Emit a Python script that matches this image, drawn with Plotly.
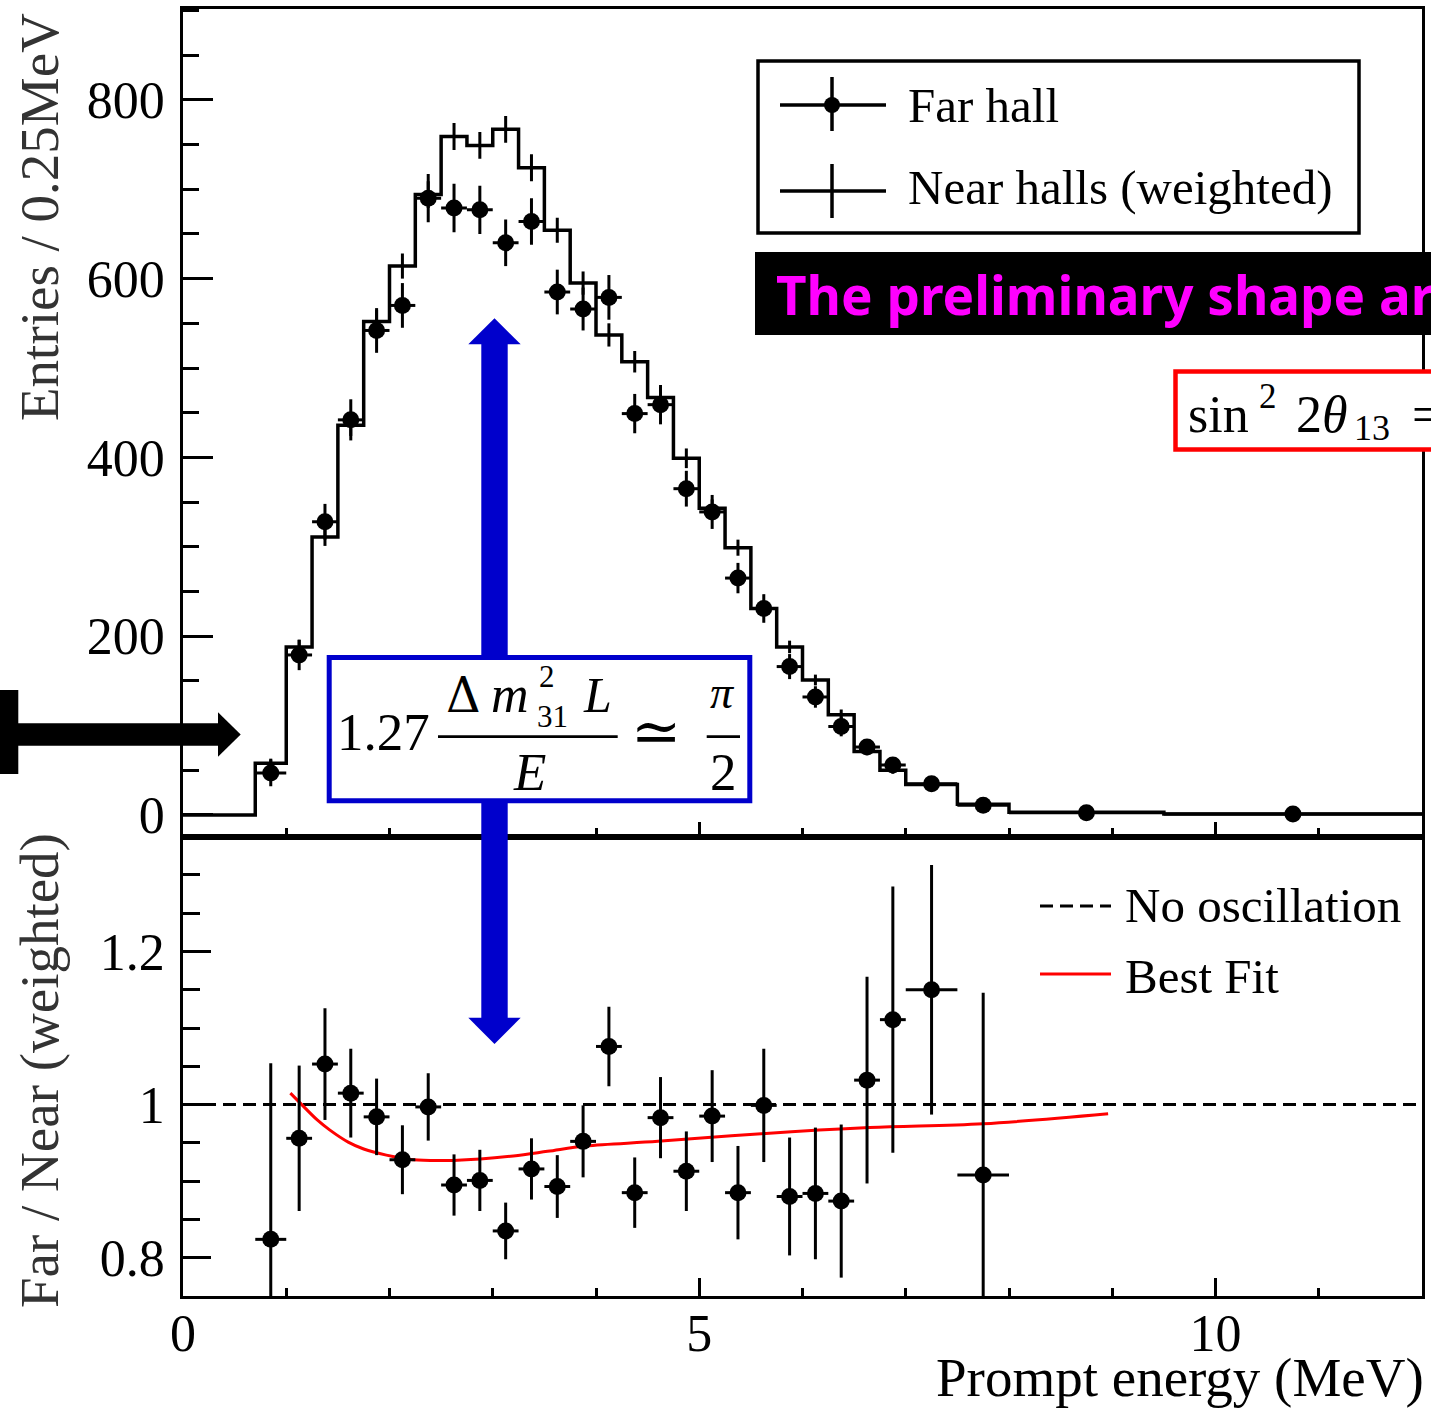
import numpy as np
import plotly.graph_objects as go

# ------------------------------------------------------------------ data
bin_edges = [0.7, 1.0, 1.25, 1.5, 1.75, 2.0, 2.25, 2.5, 2.75, 3.0, 3.25, 3.5,
             3.75, 4.0, 4.25, 4.5, 4.75, 5.0, 5.25, 5.5, 5.75, 6.0, 6.25, 6.5,
             6.75, 7.0, 7.5, 8.0, 9.5, 12.0]
near_counts = [58, 188, 311, 436, 552, 614, 694, 759, 749, 767, 724, 654, 595,
               537, 507, 467, 399, 343, 299, 231, 188, 151, 112, 71, 50, 34,
               12, 3, 1]
near_err = [5, 8, 10, 12, 13, 14, 15, 15, 15, 15, 15, 14, 13, 13, 12, 12, 11,
            10, 9, 8, 7, 6, 6, 4, 4, 3, 2, 1, 0.5]
far_counts = [47, 179, 328, 442, 542, 570, 690, 679, 677, 640, 664, 585, 566,
              579, 449, 459, 365, 339, 265, 231, 166, 132, 99, 76, 56, 35, 11,
              2.6, 1]
far_err = [15, 17, 20, 23, 25, 25, 27, 27, 27, 26, 26, 25, 24, 25, 22, 22, 20,
           19, 17, 16, 14, 12, 11, 9, 8, 6, 4, 2, 1]
ratio_vals = [0.824, 0.956, 1.053, 1.015, 0.984, 0.928, 0.997, 0.895, 0.901,
              0.835, 0.916, 0.893, 0.952, 1.076, 0.885, 0.983, 0.913, 0.985,
              0.885, 0.999, 0.880, 0.884, 0.874, 1.032, 1.111, 1.150, 0.908]
ratio_err = [0.23, 0.095, 0.073, 0.058, 0.05, 0.045, 0.044, 0.04, 0.04, 0.037,
             0.04, 0.041, 0.047, 0.052, 0.046, 0.053, 0.052, 0.06, 0.061, 0.074,
             0.077, 0.086, 0.1, 0.135, 0.174, 0.163, 0.238]
fit_energy = [1.04, 1.15, 1.3, 1.42, 1.6, 1.75, 1.97, 2.23, 2.55, 2.88, 3.2,
              3.53, 3.9, 4.6, 5.6, 6.65, 7.75, 8.96]
fit_ratio = [1.015, 1.000, 0.980, 0.967, 0.951, 0.942, 0.934, 0.928, 0.927,
             0.929, 0.933, 0.939, 0.946, 0.952, 0.962, 0.970, 0.975, 0.988]
no_osc_energy = [0, 12]
no_osc_ratio = [1, 1]

x_range = [0, 12]
top_y_range = [-24.3, 901.6]
bot_y_range = [0.75, 1.35]

# derived bin geometry
edges = np.array(bin_edges)
centers = (edges[:-1] + edges[1:]) / 2
halfw = (edges[1:] - edges[:-1]) / 2
n_ratio = len(ratio_vals)
step_x = [0.0] + bin_edges
step_y = [0] + near_counts + [near_counts[-1]]

# ------------------------------------------------------------------ layout helpers
W, H = 1431, 1411
ML, MR, MT, MB = 183, 9, 9, 115
PW, PH = W - ML - MR, H - MT - MB
SPLIT = (H - MB - 836.7) / PH

SERIF = "Liberation Serif"
BLUE = "#0000CC"


def PX(x):
    return (x - ML) / PW


def PY(y):
    return (H - MB - y) / PH


shapes = []
annotations = []


def rect(x0, y0, x1, y1, fill=None, lc=None, lw=0):
    shapes.append(dict(type="rect", xref="paper", yref="paper",
                       x0=PX(x0), x1=PX(x1), y0=PY(y1), y1=PY(y0),
                       fillcolor=fill if fill else "rgba(0,0,0,0)",
                       line=dict(color=lc if lc else "rgba(0,0,0,0)", width=lw),
                       layer="above"))


def seg(x0, y0, x1, y1, color="black", w=3, dash=None):
    ln = dict(color=color, width=w)
    if dash:
        ln["dash"] = dash
    shapes.append(dict(type="line", xref="paper", yref="paper",
                       x0=PX(x0), x1=PX(x1), y0=PY(y0), y1=PY(y1),
                       line=ln, layer="above"))


def poly(pts, fill):
    d = "M " + " L ".join(f"{PX(x):.6f},{PY(y):.6f}" for x, y in pts) + " Z"
    shapes.append(dict(type="path", xref="paper", yref="paper", path=d,
                       fillcolor=fill, line=dict(width=0), layer="above"))


def circ(cx, cy, r, fill="black"):
    shapes.append(dict(type="circle", xref="paper", yref="paper",
                       x0=PX(cx - r), x1=PX(cx + r), y0=PY(cy + r), y1=PY(cy - r),
                       fillcolor=fill, line=dict(width=0), layer="above"))


def txt(text, x, baseline, size, xanchor="left", family=SERIF, color="black",
        mid=0.3375, angle=0):
    annotations.append(dict(text=text, xref="paper", yref="paper",
                            x=PX(x), y=PY(baseline - mid * size),
                            xanchor=xanchor, yanchor="middle", showarrow=False,
                            textangle=angle,
                            font=dict(family=family, size=size, color=color)))


# ------------------------------------------------------------------ figure
fig = go.Figure()

fig.add_trace(go.Scatter(x=step_x, y=step_y, mode="lines", name="Near halls (weighted)",
                         line=dict(shape="hv", color="black", width=3.5),
                         xaxis="x", yaxis="y", hoverinfo="skip"))
fig.add_trace(go.Scatter(x=centers, y=near_counts, mode="markers", name="Near halls errors",
                         marker=dict(size=1, color="black"),
                         error_y=dict(type="data", array=near_err, color="black",
                                      thickness=3, width=0),
                         xaxis="x", yaxis="y"))
fig.add_trace(go.Scatter(x=centers, y=far_counts, mode="markers", name="Far hall",
                         marker=dict(symbol="circle", size=17, color="black"),
                         error_y=dict(type="data", array=far_err, color="black",
                                      thickness=3, width=0),
                         error_x=dict(type="data", array=halfw, color="black",
                                      thickness=3, width=0),
                         xaxis="x", yaxis="y"))
fig.add_trace(go.Scatter(x=no_osc_energy, y=no_osc_ratio, mode="lines", name="No oscillation",
                         line=dict(color="black", width=3, dash="13px,7px"),
                         xaxis="x2", yaxis="y2"))
fig.add_trace(go.Scatter(x=fit_energy, y=fit_ratio, mode="lines", name="Best Fit",
                         line=dict(color="#FF0000", width=3, shape="spline"),
                         xaxis="x2", yaxis="y2"))
fig.add_trace(go.Scatter(x=centers[:n_ratio], y=ratio_vals, mode="markers", name="Far / Near",
                         marker=dict(symbol="circle", size=17, color="black"),
                         error_y=dict(type="data", array=ratio_err, color="black",
                                      thickness=3, width=0),
                         error_x=dict(type="data", array=halfw[:n_ratio], color="black",
                                      thickness=3, width=0),
                         xaxis="x2", yaxis="y2"))

common = dict(showline=True, linecolor="black", linewidth=2.5, mirror=True,
              showgrid=False, zeroline=False, ticks="inside", tickcolor="black",
              tickwidth=2.5, automargin=False,
              tickfont=dict(family=SERIF, size=52, color="black"))

fig.update_layout(
    template="none",
    width=W, height=H,
    margin=dict(l=ML, r=MR, t=MT, b=MB, pad=0),
    paper_bgcolor="white", plot_bgcolor="white",
    showlegend=False,
    xaxis=dict(domain=[0, 1], range=x_range, anchor="y", tickmode="linear",
               tick0=0, dtick=5, ticklen=15, showticklabels=False,
               minor=dict(dtick=1, tick0=0, ticklen=9, ticks="inside",
                          tickwidth=2.5, tickcolor="black", showgrid=False),
               **common),
    yaxis=dict(domain=[SPLIT, 1], range=top_y_range, anchor="x", tickmode="linear",
               tick0=0, dtick=200, ticklen=30, ticklabelstandoff=5,
               minor=dict(dtick=50, tick0=0, ticklen=16, ticks="inside",
                          tickwidth=2.5, tickcolor="black", showgrid=False),
               **common),
    xaxis2=dict(domain=[0, 1], range=x_range, anchor="y2", tickmode="linear",
                tick0=0, dtick=5, ticklen=18, ticklabelstandoff=-10,
                minor=dict(dtick=1, tick0=0, ticklen=8, ticks="inside",
                           tickwidth=2.5, tickcolor="black", showgrid=False),
                **common),
    yaxis2=dict(domain=[0, SPLIT], range=bot_y_range, anchor="x2", tickmode="linear",
                tick0=0.8, dtick=0.2, ticklen=28, ticklabelstandoff=5,
                minor=dict(dtick=0.05, tick0=0.75, ticklen=17, ticks="inside",
                           tickwidth=2.5, tickcolor="black", showgrid=False),
                **common),
)

# ---- axis titles
txt("Entries / 0.25MeV", 39, 217 + 0.3375 * 55, 55, xanchor="center",
    color="#333333", angle=-90)
txt("Far / Near (weighted)", 39, 1071 + 0.3375 * 55, 55, xanchor="center",
    color="#333333", angle=-90)
txt("Prompt energy (MeV)", 1426, 1396, 55, xanchor="right")

# ---- top legend
rect(758, 61, 1359, 233, fill="white", lc="black", lw=3.5)
seg(780, 105, 886, 105, w=3.5)
seg(832, 77, 832, 131, w=3.5)
circ(832, 105, 8)
seg(780, 191, 886, 191, w=3.5)
seg(832, 164, 832, 218, w=3.5)
txt("Far hall", 906, 121.7, 49)
txt("Near halls (weighted)", 906, 204, 49)

# ---- bottom legend
seg(1040, 906, 1111, 906, w=3, dash="13px,7px")
seg(1040, 974, 1111, 974, color="#FF0000", w=3)
txt("No oscillation", 1123, 921.7, 49)
txt("Best Fit", 1123, 992.9, 49)

# ---- black banner
rect(755, 252, 1445, 335, fill="black")
txt("<b>The preliminary shape ar</b>", 774, 315, 53, family="Noto Sans",
    color="#FF00FF", mid=0.388)

# ---- red result box
rect(1175.5, 371.5, 1445, 449.5, fill="white", lc="#FF0000", lw=4.5)
txt("sin", 1186, 432, 52)
txt("2", 1257, 408, 35)
txt("2", 1294, 432, 52)
txt("<i>θ</i>", 1320, 432, 52)
txt("13", 1352, 440, 36)
txt("=", 1410, 432, 52)

# ---- left black arrow
rect(0, 690, 18.3, 774, fill="black")
rect(17, 723.3, 219, 745.7, fill="black")
poly([(218, 712.3), (240.7, 734.5), (218, 756.7)], "black")

# ---- blue double arrow
rect(481.3, 343.5, 507.7, 1018.5, fill=BLUE)
poly([(468.3, 344.3), (494.5, 318.3), (520.7, 344.3)], BLUE)
poly([(468.3, 1017.7), (494.5, 1044), (520.7, 1017.7)], BLUE)

# ---- blue formula box
rect(329.2, 657.5, 749.8, 800.8, fill="white", lc=BLUE, lw=5)
txt("1.27", 335, 750, 53)
txt("Δ", 463, 711.7, 48, xanchor="center", family="DejaVu Serif", mid=0.346)
txt("<i>m</i>", 510, 711.7, 52, xanchor="center")
txt("2", 546.7, 686.7, 31, xanchor="center")
txt("31", 552.5, 727.3, 31, xanchor="center")
txt("<i>L</i>", 597.5, 711.7, 50, xanchor="center")
seg(438, 736.7, 617.7, 736.7, w=2.7)
txt("<i>E</i>", 529, 790, 53, xanchor="center")
txt("≃", 656, 752, 60, xanchor="center", family="DejaVu Serif", mid=0.346)
txt("<i>π</i>", 722.5, 708, 46, xanchor="center")
seg(706.7, 736.7, 740, 736.7, w=2.7)
txt("2", 723.5, 790, 53, xanchor="center")

fig.update_layout(shapes=shapes, annotations=annotations)

fig.write_html("out.html")
